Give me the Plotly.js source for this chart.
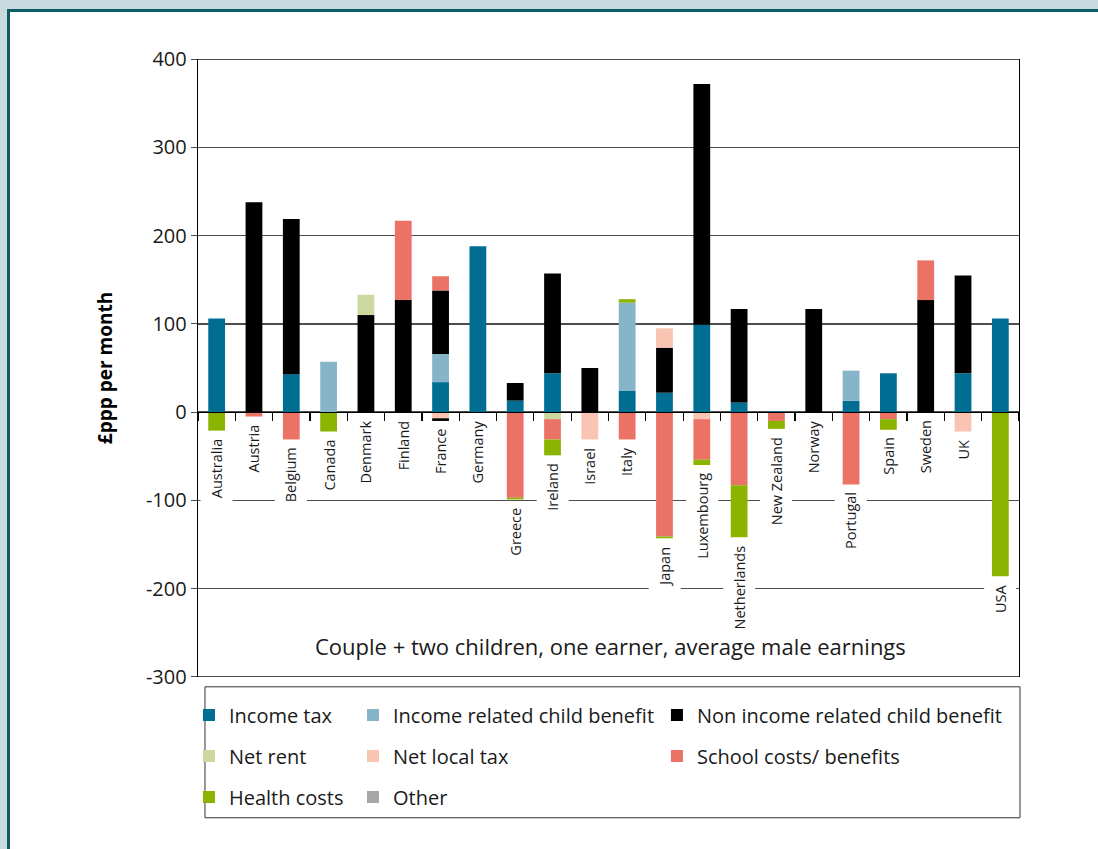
<!DOCTYPE html>
<html>
<head>
<meta charset="utf-8">
<script src="https://cdn.plot.ly/plotly-3.0.1.min.js"></script>
<style>
  html, body { margin: 0; padding: 0; width: 1098px; height: 849px; overflow: hidden; background: #c9dbdf; font-family: "Open Sans", sans-serif; }
  #frame { position: absolute; left: 7px; top: 9px; width: 1100px; height: 850px; background: #ffffff; border-left: 3px solid #0b5d66; border-top: 3px solid #0b5d66; }
  #chart { position: absolute; left: 0; top: 0; width: 1098px; height: 849px; }
</style>
</head>
<body>
<div id="frame"></div>
<div id="chart"></div>
<script>
// ---- data ----
const countries = ["Australia","Austria","Belgium","Canada","Denmark","Finland","France","Germany","Greece","Ireland","Israel","Italy","Japan","Luxembourg","Netherlands","New Zealand","Norway","Portugal","Spain","Sweden","UK","USA"];
const incomeTax            = [106,   0,  43,   0,   0,   0,  34, 188,  13,  44,   0,  24,   22,  99,  11,   1,   0,  13,  44,   0,  44,  106];
const incomeRelatedChild   = [  0,   0,   0,  57,   0,   0,  32,   0,   0,   0,   0, 100,    0,   0,   0,   0,   0,  34,   0,   0,   0,    0];
const nonIncomeChild       = [  0, 238, 176,   0, 110, 127,  72,   0,  20, 113,  50,   0,   51, 273, 106,   0, 117,   0,   0, 127, 111,    0];
const netRent              = [  0,   0,   0,   0,  23,   0,   0,   0,   0,  -8,   0,   0,    0,   0,   0,   0,   0,   0,   0,   0,   0,    0];
const netLocalTax          = [  0,   0,   0,   0,   0,   0,  -7,   0,   0,   0, -31,   0,   22,  -8,   0,   0,   0,   0,   0,   0, -22,    0];
const nonIncomeChildNeg    = [  0,   0,   0,   0,   0,   0,  -3,   0,   0,   0,   0,   0,    0,   0,   0,   0,   0,   0,   0,   0,   0,    0];
const schoolCosts          = [  0,  -5, -31,   0,   0,  90,  16,   0, -97, -23,   0, -31, -141, -46, -83, -10,   0, -82,  -8,  45,   0,    0];
const healthCosts          = [-21,   0,   0, -22,   0,   0,   0,   0,  -2, -18,   0,   4,   -2,  -6, -59,  -9,   0,   0, -12,   0,   0, -186];
const otherCosts           = [  0,   0,   0,   0,   0,   0,   0,   0,   0,   0,   0,   0,    0,   0,   0,   0,   0,   0,   0,   0,   0,    0];
const yTickVals  = [-300,-200,-100,0,100,200,300,400];
const yTickText  = ["-300","-200","-100","0","100","200","300","400"];

const FONT = '"Open Sans", "Noto Sans", sans-serif';
const GRID = '#4d4d4d';

function bar(name, values, color, legend, showlegend) {
  return {
    type: 'bar', name: name, x: countries, y: values,
    marker: { color: color, line: { width: 0 } },
    legend: legend, legendgroup: name + (showlegend === false ? '_x' : ''),
    showlegend: showlegend !== false,
    hoverinfo: 'skip'
  };
}

const traces = [
  bar('Income tax', incomeTax, '#006e93', 'legend'),
  bar('Income related child benefit', incomeRelatedChild, '#86b4c8', 'legend2'),
  bar('Non income related child benefit', nonIncomeChild, '#000000', 'legend3'),
  bar('Net rent', netRent, '#cbd89f', 'legend'),
  bar('Net local tax', netLocalTax, '#f9c4b1', 'legend2'),
  bar('Non income related child benefit', nonIncomeChildNeg, '#000000', 'legend3', false),
  bar('School costs/ benefits', schoolCosts, '#eb7366', 'legend3'),
  bar('Health costs', healthCosts, '#8ab400', 'legend'),
  bar('Other', otherCosts, '#a6a6a6', 'legend2')
];

// lowest point of each stack -> where the category label hangs
const negSeries = [incomeTax, incomeRelatedChild, nonIncomeChild, netRent, netLocalTax, nonIncomeChildNeg, schoolCosts, healthCosts, otherCosts];
const lowPoints = countries.map((c, i) => negSeries.reduce((s, arr) => s + Math.min(arr[i], 0), 0));

const catAnnotations = countries.map((c, i) => ({
  x: c, y: lowPoints[i], xref: 'x', yref: 'y',
  text: c, showarrow: false, textangle: -90,
  xanchor: 'center', yanchor: 'top', yshift: -1,
  bgcolor: '#ffffff', borderpad: 6,
  font: { family: FONT, size: 14.5, color: '#1a1a1a' }
}));

const legendCommon = {
  orientation: 'v', yanchor: 'top', xanchor: 'left',
  bgcolor: 'rgba(0,0,0,0)', borderwidth: 0,
  font: { family: FONT, size: 20, color: '#1a1a1a' },
  tracegroupgap: 12, itemclick: false, itemdoubleclick: false
};

// edge gridlines (range ends) drawn as lines at the first/last tick values
const edgeGrid = [yTickVals[0], yTickVals[yTickVals.length - 1]].map(v => ({
  type: 'line', xref: 'paper', yref: 'y', x0: 0, x1: 1, y0: v, y1: v,
  line: { color: GRID, width: 1.3 }, layer: 'below'
}));

const layout = {
  width: 1098, height: 849,
  margin: { l: 198, r: 79, t: 59, b: 172 },
  paper_bgcolor: 'rgba(0,0,0,0)', plot_bgcolor: 'rgba(0,0,0,0)',
  barmode: 'relative', bargap: 0.55,
  font: { family: FONT, color: '#1a1a1a' },
  xaxis: {
    type: 'category', anchor: 'free', position: 300.3/700.6,
    showline: true, linecolor: '#000000', linewidth: 1.3,
    ticks: 'outside', tickson: 'boundaries', ticklen: 8, tickcolor: '#000000', tickwidth: 1.2,
    showticklabels: false, showgrid: false, zeroline: false, fixedrange: true
  },
  yaxis: {
    range: [-300.3, 400.3], tickvals: yTickVals, ticktext: yTickText,
    showgrid: true, gridcolor: GRID, gridwidth: 1.3,
    showline: true, linecolor: '#000000', linewidth: 1.3, mirror: true,
    ticks: 'outside', ticklen: 6, tickcolor: GRID,
    zeroline: false, fixedrange: true,
    tickfont: { family: FONT, size: 20, color: '#1a1a1a' },
    title: { text: '£ppp per month', standoff: 28, font: { family: FONT, size: 19, color: '#000000', weight: 'bold' } }
  },
  legend:  Object.assign({}, legendCommon, { x: -0.011, y: -0.03 }),
  legend2: Object.assign({}, legendCommon, { x: 0.1888, y: -0.03 }),
  legend3: Object.assign({}, legendCommon, { x: 0.559, y: -0.03 }),
  shapes: edgeGrid.concat([
    { type: 'rect', xref: 'paper', yref: 'paper', x0: 0.0085, x1: 1.0012, y0: -0.2278, y1: -0.0159,
      line: { color: '#333333', width: 1 }, fillcolor: 'rgba(0,0,0,0)' }
  ]),
  annotations: catAnnotations.concat([
    { xref: 'paper', yref: 'paper', x: 0.503, y: 0.0505, xanchor: 'center', yanchor: 'middle',
      text: 'Couple + two children, one earner, average male earnings', showarrow: false,
      font: { family: FONT, size: 22, color: '#1a1a1a' } }
  ])
};

Plotly.newPlot('chart', traces, layout, { displayModeBar: false, staticPlot: true });
</script>
</body>
</html>
